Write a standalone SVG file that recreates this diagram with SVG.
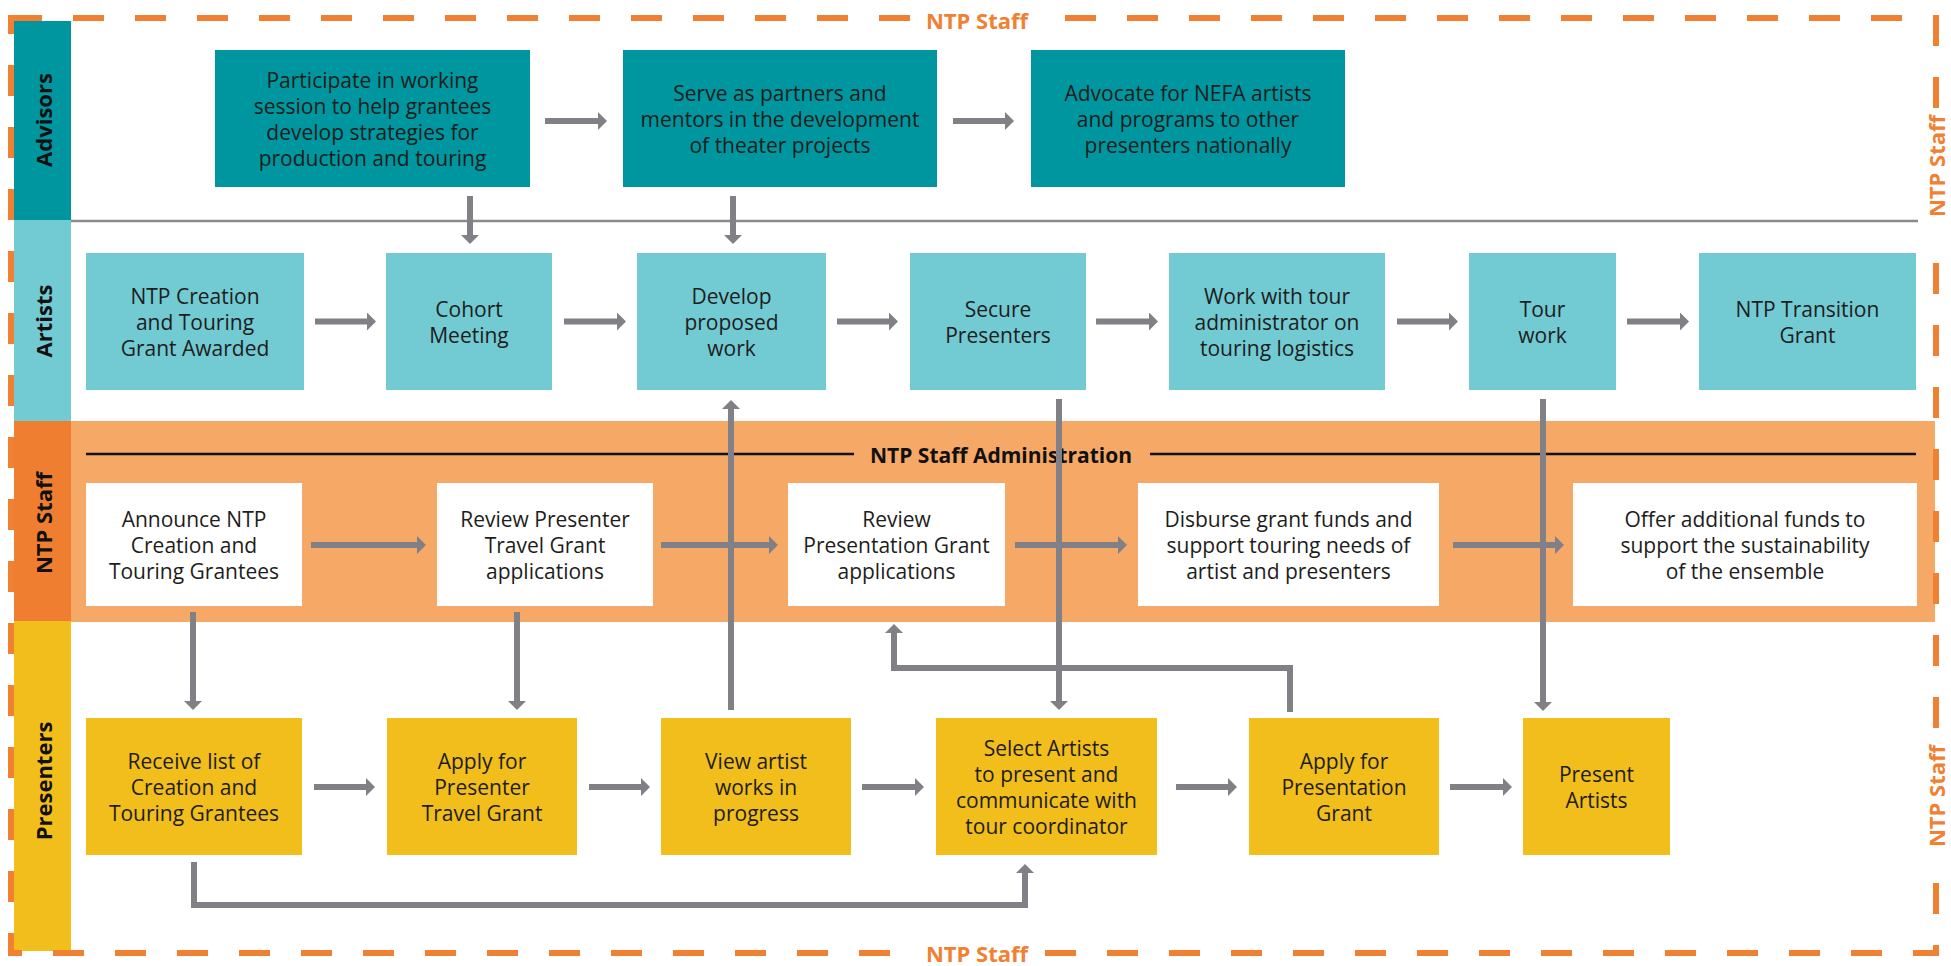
<svg xmlns="http://www.w3.org/2000/svg" width="1951" height="966" viewBox="0 0 1951 966">
<defs>
<style>
.t{font-family:"Open Sans","Liberation Sans",sans-serif;font-size:21px;fill:#1d1d1b;text-anchor:middle}
.lane{font-family:"Open Sans","Liberation Sans",sans-serif;font-size:22px;font-weight:bold;fill:#111;text-anchor:middle}
.ntp{font-family:"Open Sans","Liberation Sans",sans-serif;font-size:22px;font-weight:bold;fill:#f08132;text-anchor:middle}
.adv{fill:#00969f}
.art{fill:#72cad2}
.stf{fill:#ffffff}
.pre{fill:#f1be1b}
.c{fill:none;stroke:#808086;stroke-width:6;stroke-linejoin:miter}
</style>
<marker id="ah" viewBox="0 0 9 18" refX="0" refY="9" markerWidth="9" markerHeight="18" markerUnits="userSpaceOnUse" orient="auto">
<path d="M0,0 L9,9 L0,18 Z" fill="#808086"/>
</marker>
</defs>
<rect x="0" y="0" width="1951" height="966" fill="#ffffff"/>

<!-- lanes -->
<g id="lanes">
<rect x="14" y="21" width="57" height="199" class="adv"/>
<rect x="14" y="220" width="57" height="201" class="art"/>
<rect x="14" y="421" width="57" height="200" fill="#f07e31"/>
<rect x="14" y="621" width="57" height="330" class="pre"/>
<rect x="71" y="421" width="1864" height="201" fill="#f6a866"/>
<line x1="71" y1="221" x2="1936" y2="221" stroke="#8a8a8f" stroke-width="2.5"/>
<line x1="86" y1="454" x2="854" y2="454" stroke="#111" stroke-width="2.5"/>
<line x1="1150" y1="454" x2="1916" y2="454" stroke="#111" stroke-width="2.5"/>
<text class="lane" x="1001" y="463" style="font-size:21px">NTP Staff Administration</text>
<text class="lane" x="52" y="120" transform="rotate(-90 52 120)">Advisors</text>
<text class="lane" x="52" y="321" transform="rotate(-90 52 321)">Artists</text>
<text class="lane" x="52" y="523" transform="rotate(-90 52 523)">NTP Staff</text>
<text class="lane" x="52" y="781" transform="rotate(-90 52 781)">Presenters</text>
</g>

<!-- outer dashed border -->
<g id="border">
<rect x="11" y="18" width="1925" height="935" fill="none" stroke="#f08132" stroke-width="6" stroke-dasharray="31 31"/>
<rect x="914" y="6" width="126" height="28" fill="#ffffff"/>
<text class="ntp" x="977" y="29">NTP Staff</text>
<rect x="914" y="940" width="126" height="26" fill="#ffffff"/>
<text class="ntp" x="977" y="962">NTP Staff</text>
<rect x="1918" y="108" width="33" height="126" fill="#ffffff"/>
<text class="ntp" x="1945" y="166" transform="rotate(-90 1945 166)">NTP Staff</text>
<rect x="1918" y="735" width="33" height="122" fill="#ffffff"/>
<text class="ntp" x="1945" y="796" transform="rotate(-90 1945 796)">NTP Staff</text>
</g>

<!-- Advisors nodes -->
<g id="adv1"><rect x="215" y="50" width="315" height="137" class="adv"/>
<text class="t"><tspan x="372.5" y="88">Participate in working</tspan><tspan x="372.5" y="114">session to help grantees</tspan><tspan x="372.5" y="140">develop strategies for</tspan><tspan x="372.5" y="166">production and touring</tspan></text></g>
<g id="adv2"><rect x="623" y="50" width="314" height="137" class="adv"/>
<text class="t"><tspan x="780" y="101">Serve as partners and</tspan><tspan x="780" y="127">mentors in the development</tspan><tspan x="780" y="153">of theater projects</tspan></text></g>
<g id="adv3"><rect x="1031" y="50" width="314" height="137" class="adv"/>
<text class="t"><tspan x="1188" y="101">Advocate for NEFA artists</tspan><tspan x="1188" y="127">and programs to other</tspan><tspan x="1188" y="153">presenters nationally</tspan></text></g>

<!-- Artists nodes -->
<g id="art1"><rect x="86" y="253" width="218" height="137" class="art"/>
<text class="t"><tspan x="195" y="304">NTP Creation</tspan><tspan x="195" y="330">and Touring</tspan><tspan x="195" y="356">Grant Awarded</tspan></text></g>
<g id="art2"><rect x="386" y="253" width="166" height="137" class="art"/>
<text class="t"><tspan x="469" y="317">Cohort</tspan><tspan x="469" y="343">Meeting</tspan></text></g>
<g id="art3"><rect x="637" y="253" width="189" height="137" class="art"/>
<text class="t"><tspan x="731.5" y="304">Develop</tspan><tspan x="731.5" y="330">proposed</tspan><tspan x="731.5" y="356">work</tspan></text></g>
<g id="art4"><rect x="910" y="253" width="176" height="137" class="art"/>
<text class="t"><tspan x="998" y="317">Secure</tspan><tspan x="998" y="343">Presenters</tspan></text></g>
<g id="art5"><rect x="1169" y="253" width="216" height="137" class="art"/>
<text class="t"><tspan x="1277" y="304">Work with tour</tspan><tspan x="1277" y="330">administrator on</tspan><tspan x="1277" y="356">touring logistics</tspan></text></g>
<g id="art6"><rect x="1469" y="253" width="147" height="137" class="art"/>
<text class="t"><tspan x="1542.5" y="317">Tour</tspan><tspan x="1542.5" y="343">work</tspan></text></g>
<g id="art7"><rect x="1699" y="253" width="217" height="137" class="art"/>
<text class="t"><tspan x="1807.5" y="317">NTP Transition</tspan><tspan x="1807.5" y="343">Grant</tspan></text></g>

<!-- NTP Staff nodes -->
<g id="stf1"><rect x="86" y="483" width="216" height="123" class="stf"/>
<text class="t"><tspan x="194" y="527">Announce NTP</tspan><tspan x="194" y="553">Creation and</tspan><tspan x="194" y="579">Touring Grantees</tspan></text></g>
<g id="stf2"><rect x="437" y="483" width="216" height="123" class="stf"/>
<text class="t"><tspan x="545" y="527">Review Presenter</tspan><tspan x="545" y="553">Travel Grant</tspan><tspan x="545" y="579">applications</tspan></text></g>
<g id="stf3"><rect x="788" y="483" width="217" height="123" class="stf"/>
<text class="t"><tspan x="896.5" y="527">Review</tspan><tspan x="896.5" y="553">Presentation Grant</tspan><tspan x="896.5" y="579">applications</tspan></text></g>
<g id="stf4"><rect x="1138" y="483" width="301" height="123" class="stf"/>
<text class="t"><tspan x="1288.5" y="527">Disburse grant funds and</tspan><tspan x="1288.5" y="553">support touring needs of</tspan><tspan x="1288.5" y="579">artist and presenters</tspan></text></g>
<g id="stf5"><rect x="1573" y="483" width="344" height="123" class="stf"/>
<text class="t"><tspan x="1745" y="527">Offer additional funds to</tspan><tspan x="1745" y="553">support the sustainability</tspan><tspan x="1745" y="579">of the ensemble</tspan></text></g>

<!-- Presenters nodes -->
<g id="pre1"><rect x="86" y="718" width="216" height="137" class="pre"/>
<text class="t"><tspan x="194" y="769">Receive list of</tspan><tspan x="194" y="795">Creation and</tspan><tspan x="194" y="821">Touring Grantees</tspan></text></g>
<g id="pre2"><rect x="387" y="718" width="190" height="137" class="pre"/>
<text class="t"><tspan x="482" y="769">Apply for</tspan><tspan x="482" y="795">Presenter</tspan><tspan x="482" y="821">Travel Grant</tspan></text></g>
<g id="pre3"><rect x="661" y="718" width="190" height="137" class="pre"/>
<text class="t"><tspan x="756" y="769">View artist</tspan><tspan x="756" y="795">works in</tspan><tspan x="756" y="821">progress</tspan></text></g>
<g id="pre4"><rect x="936" y="718" width="221" height="137" class="pre"/>
<text class="t"><tspan x="1046.5" y="756">Select Artists</tspan><tspan x="1046.5" y="782">to present and</tspan><tspan x="1046.5" y="808">communicate with</tspan><tspan x="1046.5" y="834">tour coordinator</tspan></text></g>
<g id="pre5"><rect x="1249" y="718" width="190" height="137" class="pre"/>
<text class="t"><tspan x="1344" y="769">Apply for</tspan><tspan x="1344" y="795">Presentation</tspan><tspan x="1344" y="821">Grant</tspan></text></g>
<g id="pre6"><rect x="1523" y="718" width="147" height="137" class="pre"/>
<text class="t"><tspan x="1596.5" y="782">Present</tspan><tspan x="1596.5" y="808">Artists</tspan></text></g>

<!-- connectors -->
<g id="connectors">
<path class="c" marker-end="url(#ah)" d="M545,121 H598"/>
<path class="c" marker-end="url(#ah)" d="M953,121 H1005"/>
<path class="c" marker-end="url(#ah)" d="M470,196 V235"/>
<path class="c" marker-end="url(#ah)" d="M733,196 V235"/>

<path class="c" marker-end="url(#ah)" d="M315,321.5 H367"/>
<path class="c" marker-end="url(#ah)" d="M564,321.5 H617"/>
<path class="c" marker-end="url(#ah)" d="M837,321.5 H889"/>
<path class="c" marker-end="url(#ah)" d="M1096,321.5 H1149"/>
<path class="c" marker-end="url(#ah)" d="M1397,321.5 H1449"/>
<path class="c" marker-end="url(#ah)" d="M1627,321.5 H1680"/>

<path class="c" marker-end="url(#ah)" d="M311,545 H417"/>
<path class="c" marker-end="url(#ah)" d="M661,545 H769"/>
<path class="c" marker-end="url(#ah)" d="M1015,545 H1118"/>
<path class="c" marker-end="url(#ah)" d="M1453,545 H1555"/>

<path class="c" marker-end="url(#ah)" d="M314,787 H366"/>
<path class="c" marker-end="url(#ah)" d="M589,787 H641"/>
<path class="c" marker-end="url(#ah)" d="M862,787 H915"/>
<path class="c" marker-end="url(#ah)" d="M1176,787 H1228"/>
<path class="c" marker-end="url(#ah)" d="M1450,787 H1503"/>

<path class="c" marker-end="url(#ah)" d="M193,612 V701"/>
<path class="c" marker-end="url(#ah)" d="M517,612 V701"/>
<path class="c" marker-end="url(#ah)" d="M731,710 V409"/>
<path class="c" marker-end="url(#ah)" d="M1059,399 V701"/>
<path class="c" marker-end="url(#ah)" d="M1543,399 V702"/>
<path class="c" marker-end="url(#ah)" d="M1290,712 V668 H894 V633"/>
<path class="c" marker-end="url(#ah)" d="M194,862 V905 H1025 V873"/>
</g>
</svg>
